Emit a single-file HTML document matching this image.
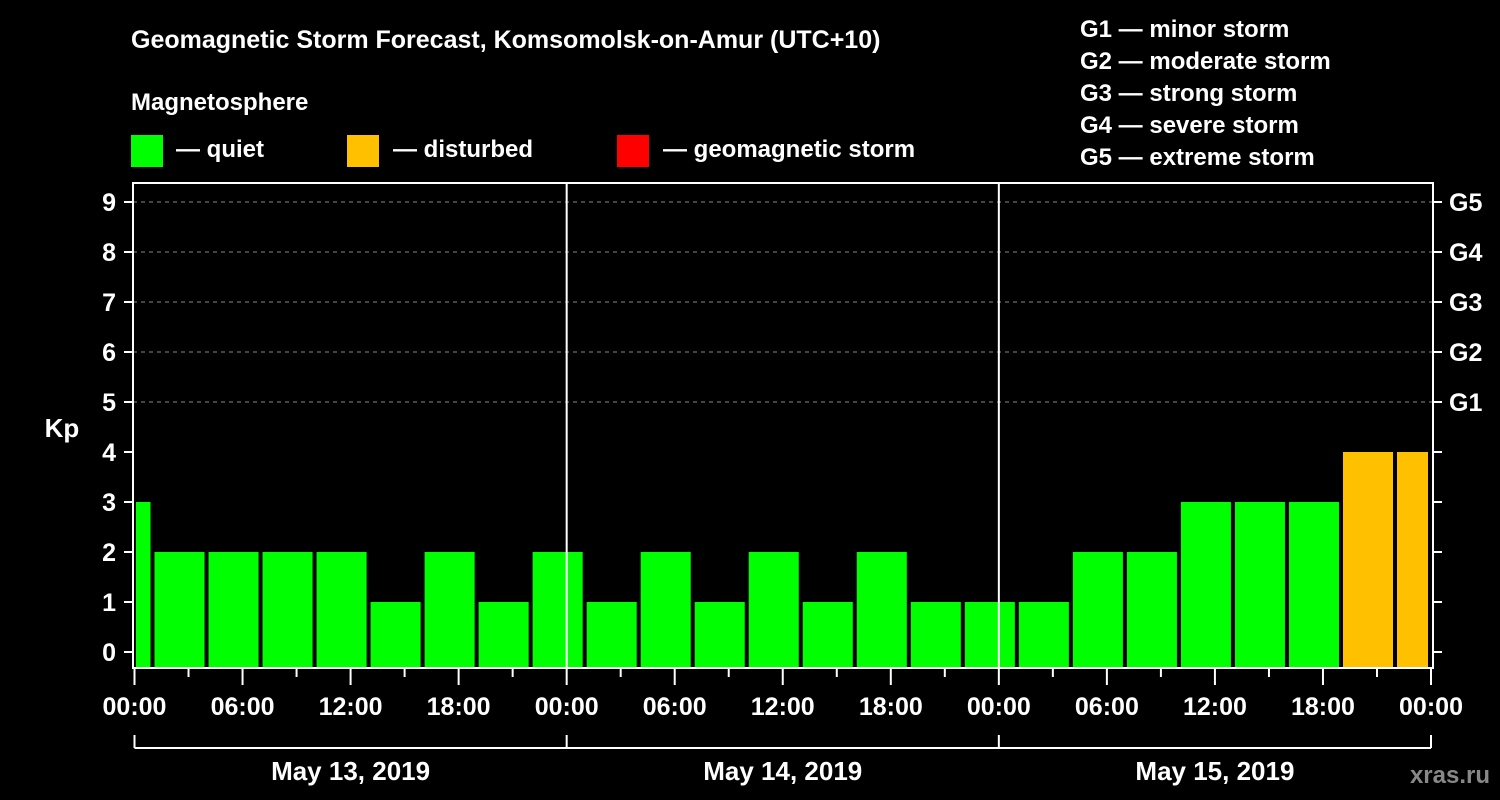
<!DOCTYPE html>
<html><head><meta charset="utf-8"><style>
html,body{margin:0;padding:0;background:#000;}
svg{display:block;font-family:"Liberation Sans",Arial,sans-serif;font-weight:bold;}
</style></head><body>
<svg id="chart" width="1500" height="800" viewBox="0 0 1500 800">
<rect x="0" y="0" width="1500" height="800" fill="#000"/>
<text x="131" y="48" fill="#fff" font-size="25">Geomagnetic Storm Forecast, Komsomolsk-on-Amur (UTC+10)</text>
<text x="131" y="110" fill="#fff" font-size="24">Magnetosphere</text>
<g><rect x="131" y="135" width="32" height="32" fill="#00ff00"/><text x="176" y="157" fill="#fff" font-size="24">— quiet</text></g>
<g><rect x="347" y="135" width="32" height="32" fill="#ffc000"/><text x="393" y="157" fill="#fff" font-size="24">— disturbed</text></g>
<g><rect x="617" y="135" width="32" height="32" fill="#ff0000"/><text x="663" y="157" fill="#fff" font-size="24">— geomagnetic storm</text></g>
<g fill="#fff" font-size="24">
<text x="1080" y="37">G1 — minor storm</text>
<text x="1080" y="69">G2 — moderate storm</text>
<text x="1080" y="101">G3 — strong storm</text>
<text x="1080" y="133">G4 — severe storm</text>
<text x="1080" y="165">G5 — extreme storm</text>
</g>
<text x="62" y="437" fill="#fff" font-size="26" text-anchor="middle">Kp</text>
<text x="1490" y="783" fill="#888" font-size="24" text-anchor="end">xras.ru</text>
<g id="marks"></g>
</svg>
<script>
const kpValues = [3,2,2,2,2,1,2,1,2,1,2,1,2,1,2,1,1,1,2,2,3,3,3,4,4];
const slotStartHours = [-2,1,4,7,10,13,16,19,22,25,28,31,34,37,40,43,46,49,52,55,58,61,64,67,70];
const dayLabels = ["May 13, 2019","May 14, 2019","May 15, 2019"];
const kpTicks = [0,1,2,3,4,5,6,7,8,9];
const gLabels = ["G1","G2","G3","G4","G5"];
const hourLabels = ["00:00","06:00","12:00","18:00"];

const X0 = 134.5, PX_H = 18.0071, LEFT = 133, RIGHT = 1433, TOP = 183, BOTTOM = 668;
const xh = h => X0 + h * PX_H;
const yk = k => 652 - 50 * k;
const NS = "http://www.w3.org/2000/svg";
const g = document.getElementById('marks');
function mk(tag, attrs, parent) {
  const e = document.createElementNS(NS, tag);
  for (const k in attrs) e.setAttribute(k, attrs[k]);
  (parent || g).appendChild(e);
  return e;
}
// grid
[5,6,7,8,9].forEach(k => {
  const l = mk('line', {x1: LEFT, x2: RIGHT, y1: yk(k), y2: yk(k), stroke: '#888', 'stroke-dasharray': '4 4', 'stroke-width': 1});
  
  
});
// bars
kpValues.forEach((v, i) => {
  let s = xh(slotStartHours[i]) + 2, e = xh(slotStartHours[i] + 3) - 2;
  s = Math.max(s, LEFT + 3); e = Math.min(e, RIGHT - 5);
  const col = v >= 5 ? '#ff0000' : (v >= 4 ? '#ffc000' : '#00ff00');
  const r = mk('rect', {x: s, y: yk(v), width: e - s, height: BOTTOM - yk(v), fill: col});
  
  
});
// day separators
[1,2].forEach(d => {
  const l = mk('line', {x1: xh(d*24), x2: xh(d*24), y1: TOP, y2: BOTTOM, stroke: '#fff', 'stroke-width': 2});
  
  
});
// frame
const fr = mk('path', {d: `M${LEFT} ${TOP}H${RIGHT}V${BOTTOM}H${LEFT}Z`, fill: 'none', stroke: '#fff', 'stroke-width': 2});


// y ticks
kpTicks.forEach(k => {
  mk('line', {x1: LEFT - 9, x2: LEFT, y1: yk(k), y2: yk(k), stroke: '#fff', 'stroke-width': 2});
  mk('line', {x1: RIGHT, x2: RIGHT + 9, y1: yk(k), y2: yk(k), stroke: '#fff', 'stroke-width': 2});
  const t = mk('text', {x: 116, y: yk(k) + 9, fill: '#fff', 'font-size': 25, 'text-anchor': 'end'});
  t.textContent = k;
  
  
});
gLabels.forEach((lab, i) => {
  const t = mk('text', {x: 1449, y: yk(5 + i) + 9, fill: '#fff', 'font-size': 25});
  t.textContent = lab;
  
  
});
// x ticks
for (let h = 0; h <= 72; h += 3) {
  const major = h % 6 === 0;
  mk('line', {x1: xh(h), x2: xh(h), y1: BOTTOM, y2: BOTTOM + (major ? 17 : 9), stroke: '#fff', 'stroke-width': 2});
  if (major) {
    const t = mk('text', {x: xh(h), y: 715, fill: '#fff', 'font-size': 25, 'text-anchor': 'middle'});
    t.textContent = hourLabels[(h / 6) % 4];
    
    
  }
}
// day bracket
mk('line', {x1: xh(0), x2: xh(72), y1: 748, y2: 748, stroke: '#fff', 'stroke-width': 2});
for (let d = 0; d <= 3; d++) mk('line', {x1: xh(d*24), x2: xh(d*24), y1: 735, y2: 748, stroke: '#fff', 'stroke-width': 2});
dayLabels.forEach((lab, d) => {
  const t = mk('text', {x: xh(d*24 + 12), y: 780, fill: '#fff', 'font-size': 26, 'text-anchor': 'middle'});
  t.textContent = lab;
  
  
});
</script>
</body></html>
